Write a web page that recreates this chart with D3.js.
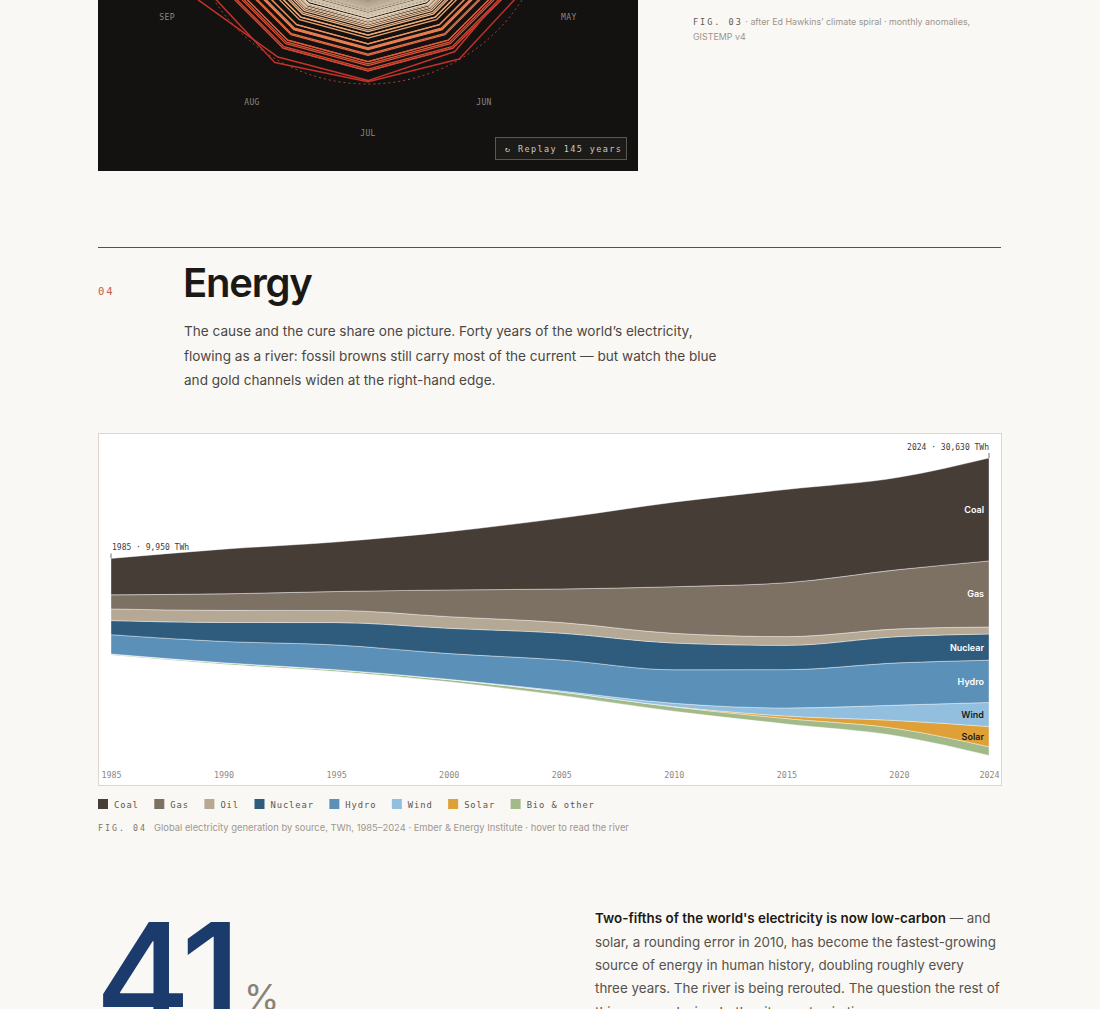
<!DOCTYPE html>
<html><head><meta charset="utf-8">
<script src="https://cdn.jsdelivr.net/npm/d3@7"></script>
<style>
html,body{margin:0;padding:0;background:#faf8f4;overflow:hidden}
svg{display:block}
</style></head><body>
<svg id="c" width="1100" height="1009"></svg>
<script>
// ---------------- DATA: Fig 04 (TWh) ----------------
const years   = [1985, 1990, 1995, 2000, 2005, 2010, 2015, 2020, 2024];
const coal    = [3750, 4600, 5100, 6000, 7300, 8700, 9600, 9500, 10600];
const gas     = [1450, 1700, 1950, 2750, 3450, 4800, 5550, 6100, 6800];
const oil     = [1200, 1250, 1250, 1200, 1100, 1000, 900, 800, 720];
const nuclear = [1450, 1950, 2300, 2600, 2750, 2750, 2500, 2700, 2700];
const hydro   = [1990, 2200, 2550, 2650, 3200, 3450, 3950, 4350, 4350];
const wind    = [0, 4, 8, 30, 100, 340, 830, 1600, 2480];
const solar   = [0, 0, 0, 1, 4, 32, 260, 850, 2080];
const bio     = [110, 150, 180, 230, 350, 450, 560, 750, 900];
const sourceNames  = ["Coal", "Gas", "Oil", "Nuclear", "Hydro", "Wind", "Solar", "Bio & other"];
const sourceColors = ["#463d36", "#7d7164", "#b5a895", "#2f5c7d", "#5b91b9", "#92bfdd", "#e0a038", "#a2b98a"];
const tickYears = [1985, 1990, 1995, 2000, 2005, 2010, 2015, 2020, 2024];

// ---------------- DATA: Fig 03 spiral (annual anomaly °C, estimated) ----------------
const spiralYears  = [1880,1882,1884,1886,1888,1890,1892,1894,1896,1898,1900,1902,1904,1906,1908,1910,1912,1914,1916,1918,1920,1922,1924,1926,1928,1930,1932,1934,1936,1938,1940,1942,1944,1946,1948,1950,1952,1954,1956,1958,1960,1962,1964,1966,1968,1970,1972,1974,1976,1978,1980,1982,1984,1986,1988,1990,1992,1994,1996,1998,2000,2002,2004,2006,2008,2010,2012,2014,2016,2017,2018,2019,2020,2021,2022];
const spiralAnnual = [-0.17,-0.10,-0.28,-0.31,-0.17,-0.36,-0.26,-0.32,-0.10,-0.28,-0.08,-0.27,-0.47,-0.22,-0.43,-0.43,-0.35,-0.15,-0.37,-0.37,-0.27,-0.28,-0.27,-0.07,-0.20,-0.14,-0.16,-0.13,-0.14,-0.02,0.13,0.08,0.20,-0.07,-0.11,-0.17,0.01,-0.13,-0.19,0.08,-0.03,0.04,-0.20,-0.05,-0.08,0.03,0.01,-0.07,-0.10,0.06,0.26,0.12,0.15,0.18,0.39,0.44,0.23,0.30,0.33,0.61,0.39,0.63,0.54,0.63,0.54,0.72,0.64,0.74,1.01,0.92,0.85,0.98,1.01,0.85,0.89];
const monthly2023 = [0.87,0.97,1.20,1.00,0.94,1.08,1.18,1.19,1.48,1.34,1.42,1.37];
const monthly2024 = [1.24,1.44,1.35,1.32,1.17,1.23,1.20,1.30,1.24,1.33,1.29,1.27];
const monthNames = ["JAN","FEB","MAR","APR","MAY","JUN","JUL","AUG","SEP","OCT","NOV","DEC"];

// ---------------- TEXT ----------------
const introLines = [
  "The cause and the cure share one picture. Forty years of the world’s electricity,",
  "flowing as a river: fossil browns still carry most of the current — but watch the blue",
  "and gold channels widen at the right-hand edge."
];
const sideLines = [
  "solar, a rounding error in 2010, has become the fastest-growing",
  "source of energy in human history, doubling roughly every",
  "three years. The river is being rerouted. The question the rest of",
  "this essay asks is whether it reroutes in time."
];

const SANS = "Inter, 'Noto Sans', sans-serif";
const MONO = "'DejaVu Sans Mono', 'Liberation Mono', monospace";
const svg = d3.select("#c");

function fitLine(sel, target){
  const fs = parseFloat(sel.attr("font-size"));
  const w = sel.node().getComputedTextLength();
  return fs * target / w;
}

// ================= FIG 03 panel (cropped) =================
const defs = svg.append("defs");
defs.append("clipPath").attr("id","pclip").append("rect")
  .attr("x",98).attr("y",-420).attr("width",540).attr("height",591);
const g3 = svg.append("g").attr("clip-path","url(#pclip)");
g3.append("rect").attr("x",98).attr("y",-420).attr("width",540).attr("height",591).attr("fill","#141210");
const cx = 368, cy = -99;
const rS = d3.scaleLinear().domain([-0.5, 1.5]).range([83, 198]);
const cS = d3.scaleLinear().domain([-0.45, 0.1, 0.45, 0.8, 1.2])
  .range(["#7d6f62","#e6d6bd","#f0a06a","#e5603e","#c3302a"]).clamp(true);
const radial = d3.lineRadial().angle((d,i)=>i*2*Math.PI/12).radius(d=>rS(d)).curve(d3.curveLinearClosed);
const sg = g3.append("g").attr("transform",`translate(${cx},${cy})`);
sg.append("circle").attr("r",rS(1.24)).attr("fill","none").attr("stroke","#c8503f").attr("stroke-width",1)
  .attr("stroke-dasharray","2,3").attr("opacity",0.85);
const rings = spiralYears.map((yr,i)=>({yr, vals: monthNames.map(()=>spiralAnnual[i])}));
rings.push({yr:2023, vals: monthly2023});
rings.push({yr:2024, vals: monthly2024});
sg.selectAll("path.ring").data(rings).join("path").attr("class","ring")
  .attr("d",d=>radial(d.vals)).attr("fill","none")
  .attr("stroke",d=>cS(d3.mean(d.vals))).attr("stroke-width",d=>d.yr>=2023?1.5:1.25).attr("stroke-linejoin","round");
const monthPos = monthNames.map((m,i)=>({m, x: cx+232*Math.sin(i*Math.PI/6), y: cy-232*Math.cos(i*Math.PI/6)+3}));
g3.selectAll("text.mon").data(monthPos.filter(d=>d.y>8)).join("text").attr("class","mon")
  .attr("x",d=>d.x).attr("y",d=>d.y)
  .attr("text-anchor","middle").attr("font-family",MONO).attr("font-size",8).attr("letter-spacing",0.4)
  .attr("fill","#8d877e").text(d=>d.m);
g3.append("rect").attr("x",495.5).attr("y",137.5).attr("width",131).attr("height",22)
  .attr("fill","#1d1b18").attr("stroke","#5a5650");
g3.append("text").attr("x",505).attr("y",151.5).attr("font-family",MONO).attr("font-size",8.5)
  .attr("letter-spacing",1.4).attr("fill","#cfc8bc").text("↻ Replay 145 years");

const cap3 = svg.append("text").attr("x",693).attr("y",25).attr("font-family",SANS).attr("font-size",8.9).attr("fill","#9a948c");
cap3.append("tspan").attr("font-family",MONO).attr("font-size",8.5).attr("letter-spacing",2).attr("fill","#5f5a54").text("FIG. 03");
cap3.append("tspan").text(" · after Ed Hawkins’ climate spiral · monthly anomalies,");
svg.append("text").attr("x",693).attr("y",40).attr("font-family",SANS).attr("font-size",8.9).attr("fill","#9a948c").text("GISTEMP v4");

// ================= Section 04 header =================
svg.append("line").attr("x1",98).attr("x2",1001).attr("y1",247.5).attr("y2",247.5).attr("stroke","#55524d").attr("stroke-width",1);
svg.append("text").attr("x",98).attr("y",295).attr("font-family",MONO).attr("font-size",10.5).attr("letter-spacing",2)
  .attr("fill","#c55a4d").text("04");
svg.append("text").attr("x",183).attr("y",297).attr("font-family",SANS).attr("font-size",40).attr("font-weight",600)
  .attr("letter-spacing",-1.2).attr("fill","#1b1916").text("Energy");
const introT = svg.append("g").selectAll("text").data(introLines).join("text")
  .attr("x",184).attr("y",(d,i)=>336+i*24.5).attr("font-family",SANS).attr("font-size",15).attr("fill","#4a4743").text(d=>d);
introT.attr("font-size",fitLine(d3.select(introT.nodes()[1]), 533));

// ================= FIG 04 chart =================
svg.append("rect").attr("x",98.5).attr("y",433.5).attr("width",903).attr("height",352)
  .attr("fill","#ffffff").attr("stroke","#dcd6cc");
const rows = years.map((yr,i)=>({year:yr, coal:coal[i], gas:gas[i], oil:oil[i], nuclear:nuclear[i],
  hydro:hydro[i], wind:wind[i], solar:solar[i], bio:bio[i]}));
const keysTop = ["coal","gas","oil","nuclear","hydro","wind","solar","bio"];
const keys = keysTop.slice().reverse();
const layers = d3.stack().keys(keys).order(d3.stackOrderNone).offset(d3.stackOffsetSilhouette)(rows);
const totals = rows.map(r=>keys.reduce((s,k)=>s+r[k],0));
const maxT = d3.max(totals);
const x = d3.scaleLinear().domain([1985,2024]).range([111,989]);
const y = d3.scaleLinear().domain([-maxT/2, maxT/2]).range([755.5,458]);
const area = d3.area().x(d=>x(d.data.year)).y0(d=>y(d[0])).y1(d=>y(d[1])).curve(d3.curveMonotoneX);
const colorOf = k => sourceColors[keysTop.indexOf(k)];
const nameOf = k => sourceNames[keysTop.indexOf(k)];
svg.append("g").selectAll("path").data(layers).join("path")
  .attr("d",area).attr("fill",d=>colorOf(d.key))
  .attr("stroke","rgba(255,255,255,0.55)").attr("stroke-width",0.7);
const last = years.length-1;
svg.append("g").selectAll("text").data(layers.filter(l=>Math.abs(y(l[last][0])-y(l[last][1]))>12)).join("text")
  .attr("x",984).attr("y",l=>(y(l[last][0])+y(l[last][1]))/2+3.5)
  .attr("text-anchor","end").attr("font-family",SANS).attr("font-size",9).attr("font-weight",600)
  .attr("fill",l=>(l.key==="wind"||l.key==="solar")?"#1d1b18":"#ffffff").text(l=>nameOf(l.key));
const ax = svg.append("g").attr("transform","translate(0,772)")
  .call(d3.axisBottom(x).tickValues(tickYears).tickFormat(d3.format("d")).tickSize(0).tickPadding(0));
ax.select(".domain").remove();
ax.selectAll("text").attr("font-family",MONO).attr("font-size",8.4).attr("fill","#8e8881").attr("dy","0.71em");
const t0 = totals[0], tN = totals[last];
const fmt = d3.format(",");
svg.append("line").attr("x1",x(1985)).attr("x2",x(1985)).attr("y1",y(t0/2)-5).attr("y2",y(t0/2)).attr("stroke","#777");
svg.append("text").attr("x",x(1985)+1).attr("y",y(t0/2)-8).attr("font-family",MONO).attr("font-size",8)
  .attr("fill","#3f3b36").text(`1985 · ${fmt(t0)} TWh`);
svg.append("line").attr("x1",x(2024)).attr("x2",x(2024)).attr("y1",y(tN/2)-5).attr("y2",y(tN/2)).attr("stroke","#777");
svg.append("text").attr("x",x(2024)).attr("y",y(tN/2)-8).attr("text-anchor","end").attr("font-family",MONO).attr("font-size",8)
  .attr("fill","#3f3b36").text(`2024 · ${fmt(tN)} TWh`);

// legend
const lg = svg.append("g");
let lx = 98;
sourceNames.forEach((n,i)=>{
  lg.append("rect").attr("x",lx).attr("y",799).attr("width",10).attr("height",10).attr("fill",sourceColors[i]);
  const t = lg.append("text").attr("x",lx+16).attr("y",807.5).attr("font-family",MONO).attr("font-size",8.8)
    .attr("letter-spacing",0.9).attr("fill","#5b5650").text(n);
  lx += 16 + t.node().getComputedTextLength() + 15.5;
});
svg.append("text").attr("x",98).attr("y",831).attr("font-family",MONO).attr("font-size",8.3).attr("letter-spacing",2)
  .attr("fill","#7a756e").text("FIG. 04");
svg.append("text").attr("x",154).attr("y",831).attr("font-family",SANS).attr("font-size",9.4)
  .attr("fill","#9d978f").text("Global electricity generation by source, TWh, 1985–2024 · Ember & Energy Institute · hover to read the river");

// ================= Big stat =================
svg.append("text").attr("x",95).attr("y",1028).attr("font-family",SANS).attr("font-size",146).attr("font-weight",500)
  .attr("letter-spacing",-6).attr("fill","#1b3b6c").text("41");
svg.append("text").attr("x",244).attr("y",1010).attr("font-family",SANS).attr("font-size",36)
  .attr("fill","#8a8279").text("%");
const first = svg.append("text").attr("x",595).attr("y",923).attr("font-family",SANS).attr("font-size",14.5).attr("fill","#55514c");
first.append("tspan").attr("font-weight",600).attr("fill","#1b1916").text("Two-fifths of the world's electricity is now low-carbon");
first.append("tspan").text(" — and");
const sideT = svg.append("g").selectAll("text.s").data(sideLines).join("text").attr("class","s")
  .attr("x",595).attr("y",(d,i)=>946.5+i*23.4).attr("font-family",SANS).attr("font-size",14.5).attr("fill","#55514c").text(d=>d);
const sideFs = fitLine(d3.select(sideT.nodes()[2]), 405);
sideT.attr("font-size",sideFs); first.attr("font-size",sideFs);
</script>
</body></html>
